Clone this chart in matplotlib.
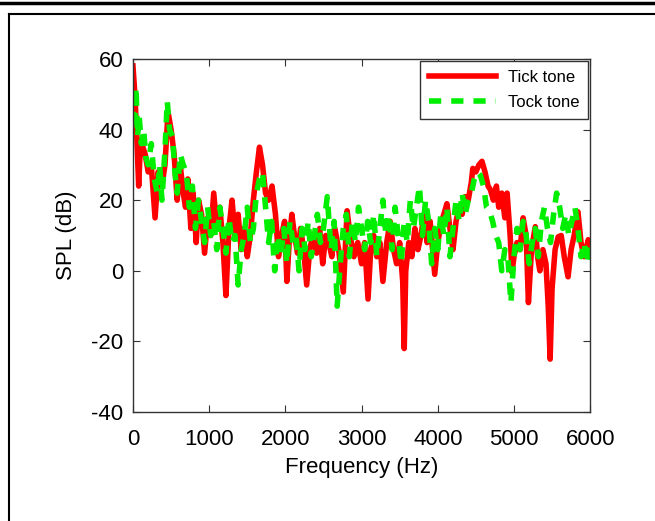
import matplotlib
matplotlib.use('Agg')
import matplotlib.pyplot as plt
from matplotlib.lines import Line2D

plt.rcParams['font.family'] = ['Liberation Sans', 'DejaVu Sans']
plt.rcParams['axes.unicode_minus'] = False

tick_freq = [0, 25, 50, 75, 100, 130, 160, 200, 240, 290, 330, 380, 420, 460, 500, 540, 580, 620,
             660, 690, 720, 760, 790, 830, 860, 900, 940, 980, 1020, 1060, 1100, 1140, 1180, 1220,
             1260, 1300, 1340, 1380, 1420, 1460, 1500, 1540, 1580, 1620, 1660, 1700, 1740, 1780,
             1825, 1870, 1910, 1950, 1990, 2020, 2050, 2085, 2120, 2160, 2200, 2240, 2280, 2320,
             2360, 2410, 2450, 2490, 2530, 2570, 2610, 2650, 2700, 2760, 2810, 2850, 2900, 2950,
             3000, 3040, 3085, 3120, 3160, 3200, 3240, 3280, 3330, 3375, 3420, 3460, 3500, 3540,
             3560, 3580, 3620, 3660, 3700, 3740, 3780, 3820, 3860, 3900, 3940, 3960, 4000, 4050,
             4080, 4120, 4160, 4200, 4240, 4280, 4320, 4360, 4400, 4440, 4460, 4500, 4540, 4580,
             4620, 4660, 4690, 4730, 4770, 4800, 4840, 4880, 4910, 4950, 4975, 5000, 5040, 5080,
             5120, 5160, 5190, 5230, 5280, 5310, 5340, 5380, 5420, 5450, 5475, 5500, 5540, 5580,
             5620, 5660, 5710, 5750, 5790, 5840, 5880, 5920, 5975, 6000]
tick_spl = [58, 50, 38, 24, 37, 35, 33, 28, 30, 15, 28, 24, 30, 45, 40, 33, 20, 30,
            22, 18, 26, 12, 22, 8, 20, 16, 5, 15, 10, 22, 12, 18, 8, -7,
            12, 20, 10, 16, 6, 12, 4, 10, 20, 28, 35, 30, 22, 20,
            24, 16, 4, 10, 14, -3, 8, 16, 10, 5, 12, 6, -4, 6,
            10, 5, 12, 2, 10, 8, 4, 12, 6, -6, 17, 10, 4, 8,
            2, 8, -8, 6, 10, 4, 8, -3, 8, 14, 6, 2, 8, -3,
            -22, 0, 8, 4, 12, 6, 10, 16, 8, 14, 4, -1, 8, 14,
            16, 19, 12, 6, 14, 18, 16, 21, 20, 25, 29, 28, 30, 31,
            28, 24, 23, 20, 24, 18, 22, 15, 22, 10, -0.5, 4, 8, 6,
            15, 10, -9, 6, 12.5, 4, 0, 6, 2, -10, -25, -5, 6, 9.6,
            10, 4, -1.7, 6, 10, 16.7, 8, 4, 8.8, 5]

tock_freq = [0, 20, 40, 60, 80, 110, 140, 170, 200, 240, 280, 320, 350, 380, 420, 450, 480, 520,
             550, 580, 620, 660, 700, 740, 780, 820, 860, 900, 940, 980, 1020, 1060, 1100, 1140,
             1180, 1220, 1260, 1300, 1340, 1380, 1420, 1460, 1500, 1540, 1580, 1620, 1660, 1700,
             1740, 1780, 1820, 1860, 1900, 1940, 1980, 2020, 2060, 2100, 2140, 2180, 2220, 2260,
             2300, 2340, 2380, 2420, 2460, 2500, 2550, 2600, 2640, 2680, 2720, 2760, 2800, 2840,
             2880, 2920, 2960, 3000, 3040, 3080, 3120, 3160, 3200, 3240, 3280, 3320, 3360, 3400,
             3440, 3480, 3520, 3560, 3600, 3640, 3680, 3720, 3760, 3800, 3840, 3880, 3920, 3960,
             4000, 4040, 4080, 4120, 4160, 4200, 4240, 4280, 4320, 4360, 4400, 4440, 4480, 4520,
             4560, 4600, 4640, 4680, 4720, 4760, 4800, 4840, 4880, 4920, 4960, 5000, 5040, 5080,
             5120, 5160, 5200, 5240, 5280, 5320, 5360, 5400, 5440, 5480, 5520, 5560, 5600, 5640,
             5680, 5720, 5760, 5800, 5840, 5880, 5920, 5960, 6000]
tock_spl = [45, 40, 52, 38, 44, 36, 40, 32, 30, 36, 26, 22, 30, 20, 34, 48, 40, 38,
            28, 22, 33, 30, 28, 18, 24, 12, 20, 14, 8, 18, 10, 14, 6, 18,
            12, 5, 15, 8, 10, -4, 6, 10, 18, 8, 12, 22, 26, 28,
            18, 8, 14, 0, 10, 4, 12, 2, 14, 8, 10, 0, 12, 6,
            14, 4, 10, 16, 8, 12, 21, 6, 14, -10, 2, 12, 16, 4,
            14, 8, 18, 12, 6, 14, 8, 16, 4, 12, 20, 10, 16, 6,
            18, 10, 2, 14, 8, 20, 12, 18, 24, 10, 20, 14, 2, 12,
            6, 16, 10, 18, 4, 12, 20, 14, 22, 16, 20, 22, 26, 28,
            27, 24, 18, 17, 14, 10, 8, 0, 6, 4, -9, 4, 12, 6,
            14, 10, 2, 8, 12, 4, 14, 18, 12, 8, 16, 22, 18, 12,
            16, 10, 14, 18, 12, 4, 8, 2, 8]

fig = plt.figure(figsize=(6.55, 5.21), dpi=100)
ax = fig.add_axes([0.203, 0.209, 0.698, 0.678])

ax.plot(tick_freq, tick_spl, color='#ff0000', lw=4, label='Tick tone')
ax.plot(tock_freq, tock_spl, color='#00ee00', lw=4, dashes=(2.2, 1.8), label='Tock tone')

ax.set_xlim(0, 6000)
ax.set_ylim(-40, 60)
ax.set_xticks(range(0, 6001, 1000))
ax.set_yticks(range(-40, 61, 20))
ax.tick_params(direction='in', top=True, right=True, length=5, labelsize=16, color='#333333')
ax.tick_params(axis='x', pad=12)
ax.tick_params(axis='y', pad=7)
for s in ax.spines.values():
    s.set_color('#333333')
    s.set_linewidth(1)
ax.set_xlabel('Frequency (Hz)', fontsize=16, labelpad=5)
ax.set_ylabel('SPL (dB)', fontsize=16, labelpad=10)

leg = ax.legend(loc='upper right', fontsize=12, handlelength=4.0, fancybox=False,
                framealpha=1, borderaxespad=0.1, edgecolor='#333333',
                borderpad=0.55, labelspacing=0.6, handletextpad=0.7)
leg.get_frame().set_linewidth(1)

# page frame lines around the figure
fig.add_artist(Line2D([0, 1], [0.994, 0.994], color='black', lw=2.5, transform=fig.transFigure))
fig.add_artist(Line2D([0.013, 1], [0.974, 0.974], color='black', lw=1.5, transform=fig.transFigure))
fig.add_artist(Line2D([0.013, 0.013], [0, 0.974], color='black', lw=1.5, transform=fig.transFigure))

fig.savefig('out.png', dpi=100)
